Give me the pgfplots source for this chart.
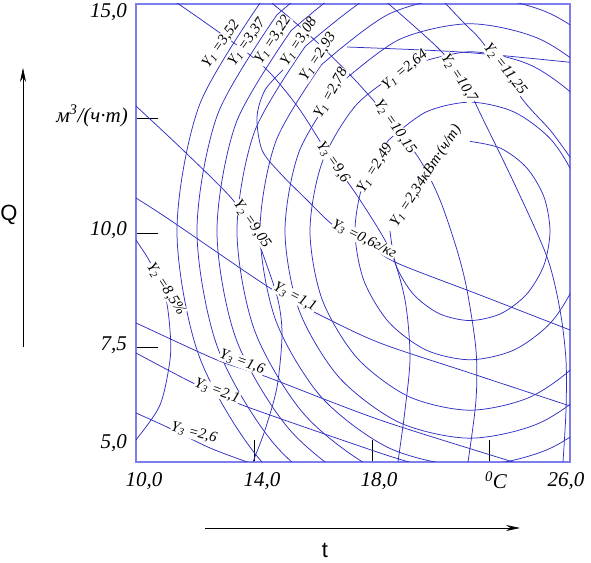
\documentclass[border=0pt]{standalone}
\usepackage{fontspec}
\setmainfont{Liberation Serif}
\newfontfamily\sansf{Liberation Sans}
\usepackage{pgfplots}
\pgfplotsset{compat=1.18}
\usetikzlibrary{arrows.meta}
\definecolor{curve}{RGB}{48,48,196}
\definecolor{frame}{RGB}{125,125,235}
\newcommand\lf{\itshape\fontsize{15}{15}\selectfont}
\newcommand\tf{\itshape\fontsize{21}{21}\selectfont}

\begin{document}
\begin{tikzpicture}
\begin{axis}[
    at={(136pt,100pt)}, anchor=south west,
    scale only axis, width=434pt, height=458pt,
    xmin=10, xmax=26, ymin=5, ymax=15,
    axis line style={draw=frame, line width=1.3pt},
    tick pos=left, tick align=inside,
    major tick length=22pt,
    tick style={black, line width=0.6pt},
    xtick={14.35,18.7,23.01}, ytick={7.5,10,12.5},
    xticklabels={,,}, yticklabels={,,},
    yc/.style={curve, line width=0.75pt, smooth, mark=none},
]
% Y1 (closed contours around the optimum)
\addplot[yc] coordinates {(19.364,10.044) (19.588,9.295) (20.228,8.661) (21.184,8.237) (22.313,8.088) (23.442,8.237) (24.398,8.661) (25.038,9.295) (25.262,10.044) (25.038,10.793) (24.398,11.427) (23.442,11.851) (22.313,12.000)};
\addplot[yc] coordinates {(19.315,12.032) (18.396,11.120) (18.073,10.044) (18.396,8.968) (19.315,8.056) (20.690,7.446) (22.313,7.232) (23.936,7.446) (25.311,8.056) (26.230,8.968) (26.553,10.044) (26.230,11.120) (25.311,12.032) (23.936,12.642) (22.313,12.856) (20.690,12.642) (19.315,12.032)};
\addplot[yc] coordinates {(20.055,13.659) (18.142,12.811) (16.863,11.542) (16.414,10.044) (16.863,8.546) (18.142,7.277) (20.055,6.429) (22.313,6.131) (24.571,6.429) (26.484,7.277) (27.763,8.546) (28.212,10.044) (27.763,11.542) (26.484,12.811) (24.571,13.659) (22.313,13.957) (20.055,13.659)};
\addplot[yc] coordinates {(17.491,13.243) (16.012,11.775) (15.493,10.044) (16.012,8.313) (17.491,6.845) (19.703,5.864) (22.313,5.520) (24.923,5.864) (27.135,6.845) (28.614,8.313) (29.133,10.044) (28.614,11.775) (27.135,13.243) (24.923,14.224) (22.313,14.568) (19.703,14.224) (17.491,13.243)};
\addplot[yc] coordinates {(16.839,13.675) (15.160,12.009) (14.571,10.044) (15.160,8.079) (16.839,6.413) (19.350,5.300) (22.313,4.909) (25.276,5.300) (27.787,6.413) (29.466,8.079) (30.055,10.044) (29.466,12.009) (27.787,13.675) (25.276,14.788) (22.313,15.179) (19.350,14.788) (16.839,13.675)};
\addplot[yc] coordinates {(16.239,14.073) (14.377,12.225) (13.723,10.044) (14.377,7.863) (16.239,6.015) (19.026,4.780) (22.313,4.346) (25.600,4.780) (28.387,6.015) (30.249,7.863) (30.903,10.044) (30.249,12.225) (28.387,14.073) (25.600,15.308) (22.313,15.742) (19.026,15.308) (16.239,14.073)};
\addplot[yc] coordinates {(15.718,14.419) (13.696,12.412) (12.986,10.044) (13.696,7.676) (15.718,5.669) (18.744,4.328) (22.313,3.857) (25.882,4.328) (28.908,5.669) (30.930,7.676) (31.640,10.044) (30.930,12.412) (28.908,14.419) (25.882,15.760) (22.313,16.231) (18.744,15.760) (15.718,14.419)};
\addplot[yc] coordinates {(15.197,14.765) (13.015,12.599) (12.249,10.044) (13.015,7.489) (15.197,5.323) (18.462,3.876) (22.313,3.368) (26.164,3.876) (29.429,5.323) (31.611,7.489) (32.377,10.044) (31.611,12.599) (29.429,14.765) (26.164,16.212) (22.313,16.720) (18.462,16.212) (15.197,14.765)};
\addplot[yc] coordinates {(14.675,15.110) (12.333,12.786) (11.511,10.044) (12.333,7.302) (14.675,4.978) (18.179,3.424) (22.313,2.879) (26.447,3.424) (29.951,4.978) (32.293,7.302) (33.115,10.044) (32.293,12.786) (29.951,15.110) (26.447,16.664) (22.313,17.209) (18.179,16.664) (14.675,15.110)};
% Y2
\addplot[yc] coordinates {(9.6,10.2) (10.000,9.847) (10.516,9.367) (11.069,8.646) (11.253,7.882) (11.253,7.227) (10.885,6.245) (10.000,5.480) (9.6,5.2)};
\addplot[yc] coordinates {(9.6,13.0) (10.000,12.773) (11.806,11.769) (13.576,10.721) (14.387,9.956) (14.756,9.410) (15.235,8.537) (15.383,7.773) (15.198,6.638) (14.756,5.699) (14.313,5.000) (14.1,4.6)};
\addplot[yc] coordinates {(11.0,15.2) (11.622,14.978) (13.097,14.367) (14.203,13.886) (15.014,13.450) (16.046,12.686) (17.152,11.659) (18.258,10.721) (19.364,9.629) (19.917,8.537) (20.101,7.293) (19.917,6.135) (19.659,5.000) (19.6,4.7)};
\addplot[yc] coordinates {(14.6,15.25) (15.051,15.000) (15.677,14.694) (16.783,14.105) (18.074,13.341) (19.364,12.467) (20.470,11.594) (21.207,10.721) (21.834,9.629) (22.203,8.755) (22.534,7.445) (22.534,6.354) (22.240,5.000) (22.1,4.6)};
\addplot[yc] coordinates {(18.9,15.2) (19.364,14.978) (21.207,13.996) (22.129,13.297) (22.682,12.620) (23.972,11.048) (25.152,9.476) (25.631,8.319) (25.852,7.227) (25.852,6.135) (25.742,5.000) (25.7,4.7)};
\addplot[yc] coordinates {(21.0,15.3) (21.465,14.978) (22.129,14.563) (22.793,14.148) (24.267,12.904) (25.263,12.249) (26.000,11.659) (26.737,11.048)};
% Y3
\addplot[yc] coordinates {(15.419,13.559) (14.756,13.122) (14.461,12.533) (14.645,11.812) (15.309,11.310) (16.304,10.721) (17.263,10.175) (18.442,9.782) (19.622,9.345) (22.682,8.646) (26.000,7.882) (26.5,7.77)};
\addplot[yc] coordinates {(9.5,10.95) (10.000,10.764) (11.253,10.284) (14.940,8.799) (16.783,8.210) (18.995,7.598) (22.203,6.965) (25.889,6.245) (26.369,6.157)};
\addplot[yc] coordinates {(9.5,8.16) (10.000,8.035) (12.986,7.227) (14.829,6.856) (18.995,5.917) (23.899,5.000) (24.5,4.87)};
\addplot[yc] coordinates {(9.5,7.55) (10.000,7.380) (12.101,6.725) (13.908,6.245) (18.995,5.197) (20.470,4.934)};
\addplot[yc] coordinates {(9.5,6.2) (10.000,6.070) (11.143,5.764) (12.728,5.306) (14.203,4.978)};
\addplot[yc] coordinates {(17.779,14.061) (21.945,13.952) (25.889,13.734) (26.369,13.690)};
\end{axis}

\begin{scope}[shift={(0pt,562pt)}, x=1pt, y=-1pt]
% curve labels
\tikzset{lb/.style={fill=white, inner sep=0.4pt, font=\lf}}
\node[lb, rotate=55] at (221,44) {Y\textsubscript{1} =3,52};
\node[lb, rotate=55] at (247,42) {Y\textsubscript{1} =3,37};
\node[lb, rotate=57] at (273,40) {Y\textsubscript{1} =3,22};
\node[lb, rotate=57] at (299,42) {Y\textsubscript{1} =3,08};
\node[lb, rotate=57] at (318,57) {Y\textsubscript{1} =2,93};
\node[lb, rotate=61] at (331,93) {Y\textsubscript{1} =2,78};
\node[lb, rotate=40] at (405,70) {Y\textsubscript{1} =2,64};
\node[lb, rotate=58] at (375,168) {Y\textsubscript{1} =2,49};
\node[lb, rotate=57] at (426,176) {Y\textsubscript{1} =2,34кВт·(ч/т)};
\node[lb, rotate=-57] at (166,289) {Y\textsubscript{2} =8,5\%};
\node[lb, rotate=-55] at (252,224) {Y\textsubscript{2} =9,05};
\node[lb, rotate=-55] at (333,162) {Y\textsubscript{3} =9,6};
\node[lb, rotate=-55] at (395,127) {Y\textsubscript{2} =10,15};
\node[lb, rotate=-57] at (459,78) {Y\textsubscript{2} =10,7};
\node[lb, rotate=-52] at (505,69) {Y\textsubscript{2} =11,25};
\node[lb, rotate=-26] at (364,239) {Y\textsubscript{3} =0,6г/кг};
\node[lb, rotate=-28] at (295,297) {Y\textsubscript{3} =1,1};
\node[lb, rotate=-20] at (242,362) {Y\textsubscript{3} =1,6};
\node[lb, rotate=-20] at (217,391) {Y\textsubscript{3} =2,1};
\node[lb, rotate=-15] at (194,433) {Y\textsubscript{3} =2,6};
% tick labels
\node[anchor=east, font=\tf, inner sep=0pt] at (127,12) {15,0};
\node[anchor=east, font=\tf, inner sep=0pt] at (128,116) {м\textsuperscript{3}/(ч·т)};
\node[anchor=east, font=\tf, inner sep=0pt] at (127,230) {10,0};
\node[anchor=east, font=\tf, inner sep=0pt] at (127,345) {7,5};
\node[anchor=east, font=\tf, inner sep=0pt] at (127,443) {5,0};
\node[font=\tf, inner sep=0pt] at (144,481) {10,0};
\node[font=\tf, inner sep=0pt] at (262,481) {14,0};
\node[font=\tf, inner sep=0pt] at (379,481) {18,0};
\node[font=\tf, inner sep=0pt] at (496,480) {\textsuperscript{0}C};
\node[font=\tf, inner sep=0pt] at (566,481) {26,0};
% axis names with arrows
\draw[line width=0.6pt, -{Stealth[length=14pt, width=6pt]}] (23,347) -- (23,68);
\node[font=\sansf\fontsize{22}{22}\selectfont, inner sep=0pt] at (9,215) {Q};
\draw[line width=0.6pt, -{Stealth[length=14pt, width=6pt]}] (205,528) -- (520,528);
\node[font=\sansf\fontsize{22}{22}\selectfont, inner sep=0pt] at (325,550) {t};
\end{scope}
\pgfresetboundingbox
\path[use as bounding box] (0,0) rectangle (591pt,562pt);
\end{tikzpicture}
\end{document}
